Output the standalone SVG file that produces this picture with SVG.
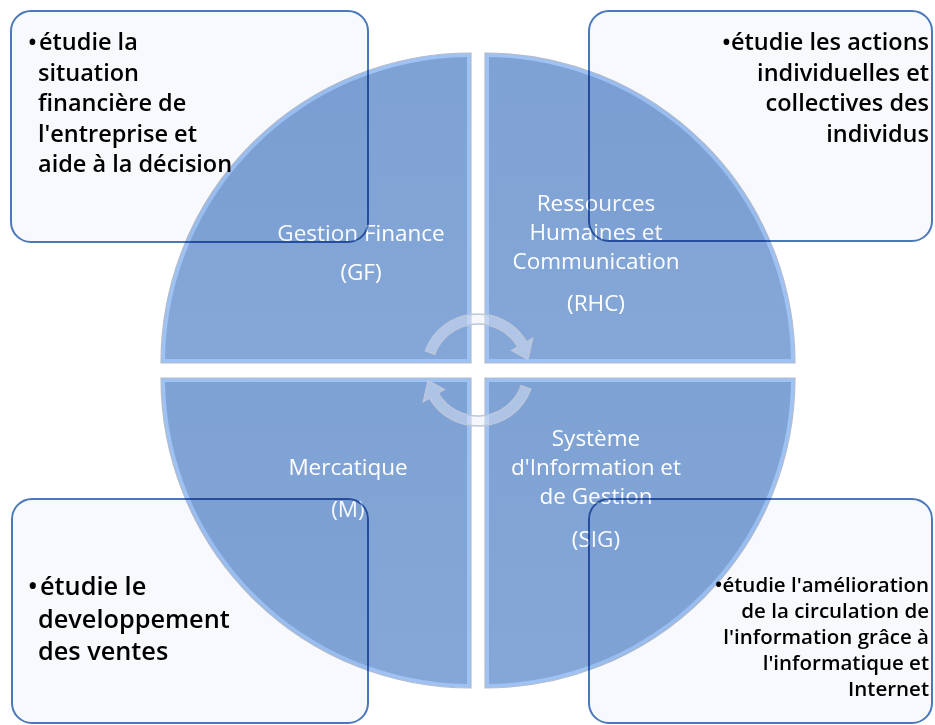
<svg xmlns="http://www.w3.org/2000/svg" width="935" height="725" viewBox="0 0 935 725">
<style>
.q-edge{fill:#9dc2f3;stroke:#b3bccc;stroke-width:1.2}
.q-in{fill:url(#qgrad)}
.qlabel{font-family:"Open Sans","Liberation Sans",sans-serif;font-size:22.5px;fill:#ffffff;text-anchor:middle}
.box{fill:#f7f9fd;stroke:#4a78bb;stroke-width:2;mix-blend-mode:multiply}
.t{font-family:"Open Sans","Liberation Sans",sans-serif;font-weight:600;fill:#000000}
.arrow{fill:#e8edf9;fill-opacity:0.45;stroke:#bcc6dc;stroke-width:1.5}
</style>
<defs>
<linearGradient id="qgrad" x1="0" y1="0" x2="0" y2="1">
<stop offset="0" stop-color="#7fa2d4"/>
<stop offset="1" stop-color="#84a7d8"/>
</linearGradient>
</defs>
<rect width="935" height="725" fill="#ffffff"/>
<g id="quadrant-gf">
<path class="q-edge" d="M 471 363 L 161 363 A 310 310 0 0 1 471 53 Z"/>
<path class="q-in" d="M 467 359 L 165.03 359 A 306 306 0 0 1 467 57.03 Z"/>
<text class="qlabel" x="361" y="241">Gestion Finance</text>
<text class="qlabel" x="361" y="280">(GF)</text>
</g>
<g id="quadrant-rhc">
<path class="q-edge" d="M 485 363 L 485 53 A 310 310 0 0 1 795 363 Z"/>
<path class="q-in" d="M 489 359 L 489 57.03 A 306 306 0 0 1 790.97 359 Z"/>
<text class="qlabel" x="596" y="211">Ressources</text>
<text class="qlabel" x="596" y="240">Humaines et</text>
<text class="qlabel" x="596" y="269">Communication</text>
<text class="qlabel" x="596" y="311">(RHC)</text>
</g>
<g id="quadrant-m">
<path class="q-edge" d="M 471 378 L 471 688 A 310 310 0 0 1 161 378 Z"/>
<path class="q-in" d="M 467 382 L 467 683.97 A 306 306 0 0 1 165.03 382 Z"/>
<text class="qlabel" x="348" y="475">Mercatique</text>
<text class="qlabel" x="348" y="517">(M)</text>
</g>
<g id="quadrant-sig">
<path class="q-edge" d="M 485 378 L 795 378 A 310 310 0 0 1 485 688 Z"/>
<path class="q-in" d="M 489 382 L 790.97 382 A 306 306 0 0 1 489 683.97 Z"/>
<text class="qlabel" x="596" y="446">Système</text>
<text class="qlabel" x="596" y="475">d'Information et</text>
<text class="qlabel" x="596" y="504">de Gestion</text>
<text class="qlabel" x="596" y="547">(SIG)</text>
</g>
<g id="connectors">
<path class="arrow" d="M 425.38 350.85 A 56 56 0 0 1 526.50 342.0 L 532.56 338.5 L 527.88 359.40 L 511.77 350.5 L 517.84 347.0 A 46 46 0 0 0 434.77 354.27 Z"/>
<path class="arrow" transform="rotate(180 478 370)" d="M 425.38 350.85 A 56 56 0 0 1 526.50 342.0 L 532.56 338.5 L 527.88 359.40 L 511.77 350.5 L 517.84 347.0 A 46 46 0 0 0 434.77 354.27 Z"/>
</g>
<g id="box-gf">
<rect class="box" x="11" y="11" width="357" height="231" rx="20"/>
<text class="t" font-size="23.5"><tspan x="28" y="50">•</tspan><tspan x="39" y="50">étudie la</tspan><tspan x="38" y="81">situation</tspan><tspan x="38" y="111">financière de</tspan><tspan x="38" y="142">l'entreprise et</tspan><tspan x="38" y="172">aide à la décision</tspan></text>
</g>
<g id="box-rhc">
<rect class="box" x="589" y="11" width="343" height="230" rx="20"/>
<text class="t" font-size="23.5" text-anchor="end"><tspan x="929" y="50">•étudie les actions</tspan><tspan x="929" y="81">individuelles et</tspan><tspan x="929" y="111">collectives des</tspan><tspan x="929" y="142">individus</tspan></text>
</g>
<g id="box-m">
<rect class="box" x="12" y="499" width="356" height="224" rx="20"/>
<text class="t" font-size="25.3"><tspan x="28" y="595">•</tspan><tspan x="40" y="595">étudie le</tspan><tspan x="38" y="628">developpement</tspan><tspan x="38" y="660">des ventes</tspan></text>
</g>
<g id="box-sig">
<rect class="box" x="589" y="499" width="343" height="224" rx="20"/>
<text class="t" font-size="20.5" text-anchor="end"><tspan x="929" y="592">•étudie l'amélioration</tspan><tspan x="929" y="618">de la circulation de</tspan><tspan x="929" y="644">l'information grâce à</tspan><tspan x="929" y="670">l'informatique et</tspan><tspan x="929" y="696">Internet</tspan></text>
</g>
</svg>
